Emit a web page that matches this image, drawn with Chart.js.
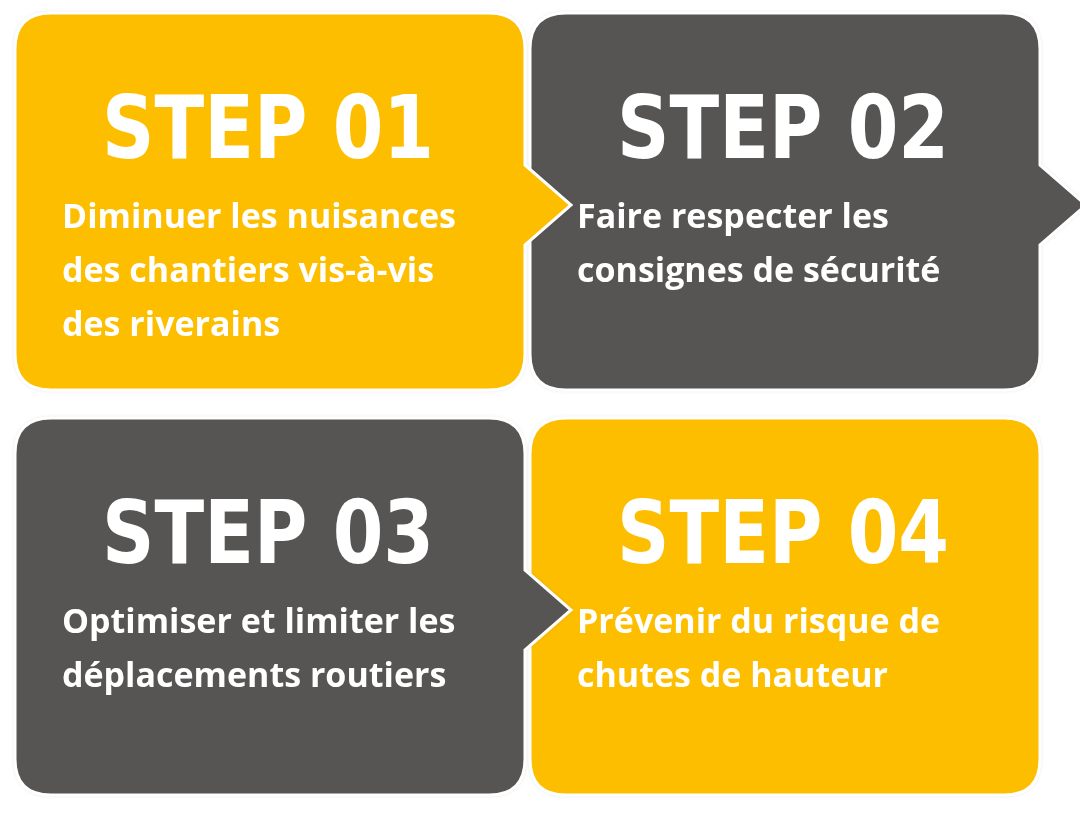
<!DOCTYPE html>
<html><head><meta charset="utf-8">
<script src="https://cdn.jsdelivr.net/npm/chart.js@4"></script>
<style>html,body{margin:0;padding:0;background:#fff}#w{width:1080px;height:817px}</style>
</head><body><div id="w"><canvas id="c"></canvas></div>
<script>
const steps = ['STEP 01','STEP 02','STEP 03','STEP 04'];
const descriptions = [
 ['Diminuer les nuisances','des chantiers vis-à-vis','des riverains'],
 ['Faire respecter les','consignes de sécurité'],
 ['Optimiser et limiter les','déplacements routiers'],
 ['Prévenir du risque de','chutes de hauteur']
];
const boxColors = ['#FDBE00','#575554','#575554','#FDBE00'];
const boxX = [15,530,15,530];
const boxY = [13,13,418,418];
const hasArrow = [true,true,true,false];

const infoPlugin = {
 id:'info',
 afterDraw(chart){
  const ctx=chart.ctx, sx=chart.scales.x, sy=chart.scales.y;
  const px=v=>sx.getPixelForValue(v), py=v=>sy.getPixelForValue(v);
  const W=510,H=377,R=36;
  function shape(i){
   const x=boxX[i],y=boxY[i];
   ctx.beginPath();
   ctx.moveTo(px(x+R),py(y));
   ctx.lineTo(px(x+W-R),py(y));
   ctx.quadraticCurveTo(px(x+W),py(y),px(x+W),py(y+R));
   if(hasArrow[i]){
     ctx.lineTo(px(x+W),py(y+152));
     ctx.lineTo(px(x+W+46),py(y+192));
     ctx.lineTo(px(x+W),py(y+232));
   }
   ctx.lineTo(px(x+W),py(y+H-R));
   ctx.quadraticCurveTo(px(x+W),py(y+H),px(x+W-R),py(y+H));
   ctx.lineTo(px(x+R),py(y+H));
   ctx.quadraticCurveTo(px(x),py(y+H),px(x),py(y+H-R));
   ctx.lineTo(px(x),py(y+R));
   ctx.quadraticCurveTo(px(x),py(y),px(x+R),py(y));
   ctx.closePath();
  }
  const order=[1,0,3,2];
  order.forEach(i=>{
   ctx.save();
   shape(i);
   ctx.shadowColor='rgba(0,0,0,0.18)';ctx.shadowBlur=4;
   ctx.fillStyle=boxColors[i];ctx.fill();
   ctx.shadowColor='transparent';
   ctx.lineWidth=3;ctx.strokeStyle='#ffffff';ctx.stroke();
   ctx.restore();
  });
  order.forEach(i=>{
   const x=boxX[i],y=boxY[i];
   ctx.save();
   ctx.fillStyle='#ffffff';
   ctx.textAlign='center';ctx.textBaseline='alphabetic';
   ctx.font='bold 88px "Liberation Sans Narrow", "DejaVu Sans Condensed", sans-serif';
   ctx.save();
   ctx.translate(px(x+253),py(y+145));
   ctx.scale(0.92,1);
   ctx.fillText(steps[i],0,0);
   ctx.restore();
   ctx.textAlign='left';
   ctx.font='bold 34px "Open Sans", sans-serif';
   descriptions[i].forEach((l,k)=>{
     ctx.fillText(l,px(x+47),py(y+215+k*54));
   });
   ctx.restore();
  });
 }
};

new Chart(document.getElementById('c'),{
 type:'scatter',
 data:{datasets:[{data:[],pointRadius:0}]},
 options:{responsive:true,maintainAspectRatio:false,animation:false,
  layout:{padding:0},
  plugins:{legend:{display:false},tooltip:{enabled:false}},
  scales:{x:{type:'linear',min:0,max:1080,display:false},
          y:{type:'linear',min:0,max:817,reverse:true,display:false}}},
 plugins:[infoPlugin]
});
</script></body></html>
